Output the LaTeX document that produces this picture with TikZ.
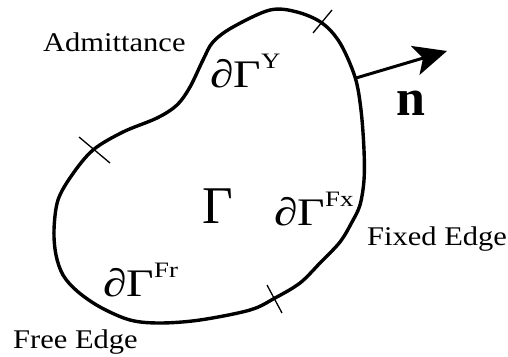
\documentclass[tikz,border=0pt]{standalone}
\usepackage{fontspec}
\setmainfont[FakeStretch=1.13]{Liberation Serif}
\newfontfamily\plainserif{Liberation Serif}
\newfontfamily\wideserif[FakeStretch=1.22]{Liberation Serif}
\usetikzlibrary{arrows.meta}
\newcommand\bdrylbl[1]{{\wideserif\fontsize{39}{42}\selectfont ∂Γ}\raisebox{19pt}{\wideserif\fontsize{22}{25}\selectfont #1}}
\begin{document}
\begin{tikzpicture}[x=1pt,y=-1pt,
  lbl/.style={inner sep=0pt, anchor=base west, font=\fontsize{27}{32}\selectfont},
  sym/.style={inner sep=0pt, anchor=base west},
  tickmark/.style={line width=1.3pt},
  outline/.style={line width=3.4pt},
  normal/.style={line width=3pt, -{Stealth[length=33pt,width=30pt,inset=8pt]}}]
\useasboundingbox (0,0) rectangle (508,356);
% domain boundary
\draw[outline] plot[smooth cycle, tension=0.55] coordinates {
  (270,10) (297,12) (322,23) (340,43) (355,77) (361,110) (364,150) (364,180)
  (360,205) (352,222) (340,242) (320,263) (300,283) (275,298) (250,310)
  (200,320) (160,323) (130,320) (100,307) (77,291) (63,275) (56,255)
  (54,230) (58,200) (72,175) (93,150) (123,132) (157,118) (177,105)
  (190,87) (203,60) (213,42) (233,27)};
% ticks separating boundary parts
\coordinate (t1a) at (313,33); \coordinate (t1b) at (332,10);
\coordinate (t2a) at (79,137); \coordinate (t2b) at (110,163);
\coordinate (t3a) at (267,285); \coordinate (t3b) at (282,313);
\draw[tickmark] (t1a) -- (t1b);
\draw[tickmark] (t2a) -- (t2b);
\draw[tickmark] (t3a) -- (t3b);
% normal vector
\coordinate (nstart) at (356,78);
\coordinate (ntip) at (447,51);
\draw[normal] (nstart) -- (ntip);
\node[sym, font=\plainserif\fontsize{52}{54}\selectfont\bfseries] (n) at (396,115) {n};
% labels
\node[lbl] (adm) at (43,51) {Admittance};
\node[lbl] (fix) at (367,245) {Fixed Edge};
\node[lbl] (fre) at (13,348) {Free Edge};
\node[sym] (gy) at (210,87) {\bdrylbl{Y}};
\node[sym] (gfx) at (274,225) {\bdrylbl{Fx}};
\node[sym] (gfr) at (103,296) {\bdrylbl{Fr}};
\node[sym, font=\plainserif\fontsize{53}{55}\selectfont] (G) at (202,223) {Γ};
\end{tikzpicture}
\end{document}
